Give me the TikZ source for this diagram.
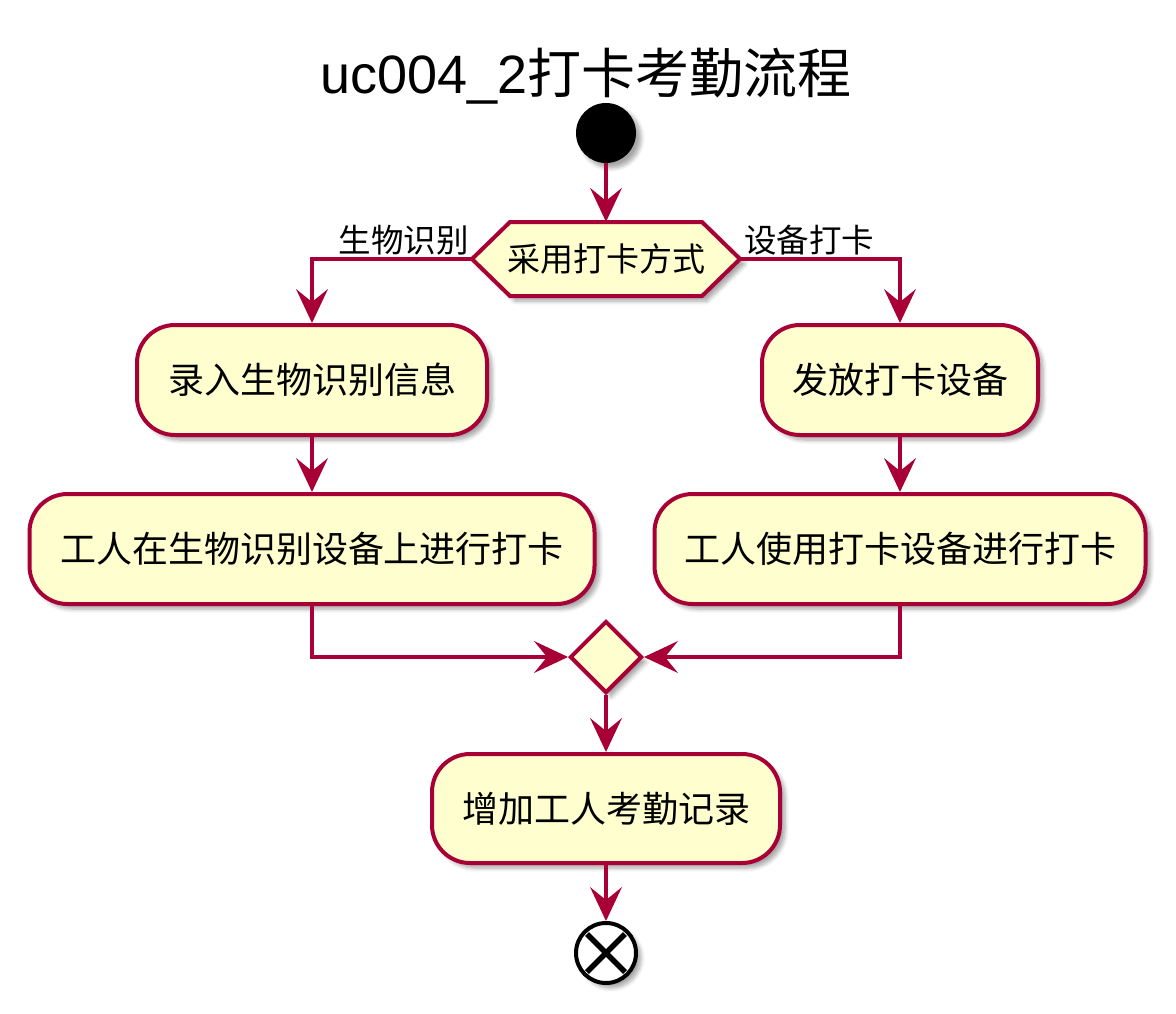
\documentclass[tikz,border=0pt]{standalone}
\usepackage{fontspec}
\setmainfont{Liberation Sans}
\newfontfamily\cjk{Noto Sans CJK SC}
\usetikzlibrary{arrows.meta,shapes.geometric,shadows.blur}
\definecolor{pline}{HTML}{A80036}
\definecolor{pfill}{HTML}{FEFECE}
\tikzset{
  x=1pt,y=-1pt,
  shd/.style={blur shadow={shadow xshift=5pt,shadow yshift=-5pt,shadow blur steps=6,shadow opacity=35,shadow blur radius=4pt}},
  actbox/.style={draw=pline,fill=pfill,line width=4pt,rounded corners=38pt,minimum height=110pt,inner sep=0pt,font=\cjk\fontsize{36}{42}\selectfont,shd},
  arr/.style={draw=pline,line width=4pt,-{Stealth[length=34pt,width=32pt,inset=13pt,line width=0pt]}},
  lbl/.style={font=\cjk\fontsize{32.5}{38}\selectfont,inner sep=0pt},
}
\begin{document}
\begin{tikzpicture}
\useasboundingbox (0,0) rectangle (1176,1013);
% title
\node[inner sep=0pt] (title) at (586,76) {\fontsize{54}{62}\selectfont uc004\_2{\cjk 打卡考勤流程}};
% start
\node[circle,fill=black,minimum size=60pt,inner sep=0pt,shd] (start) at (606,133) {};
% decision hexagon
\path[draw=pline,fill=pfill,line width=4pt,line join=miter,shd]
  (472,259) -- (510,222) -- (702,222) -- (740,259) -- (702,296) -- (510,296) -- cycle;
\node[inner sep=0pt,minimum width=268pt,minimum height=74pt,font=\cjk\fontsize{33}{38}\selectfont] (dec) at (606,259) {\raisebox{-3pt}{采用打卡方式}};
% boxes
\node[actbox,minimum width=350pt] (b1) at (312,380) {录入生物识别信息};
\node[actbox,minimum width=565pt] (b2) at (312,549) {工人在生物识别设备上进行打卡};
\node[actbox,minimum width=276pt] (b3) at (900,380) {发放打卡设备};
\node[actbox,minimum width=491pt] (b4) at (900,549) {工人使用打卡设备进行打卡};
% merge
\node[diamond,draw=pline,fill=pfill,line width=4pt,minimum width=72pt,minimum height=72pt,inner sep=0pt,shd] (m) at (606,657) {};
\node[actbox,minimum width=348pt,minimum height=109pt] (b5) at (606,808.5) {增加工人考勤记录};
% end
\node[circle,draw=black,fill=white,line width=4pt,minimum size=60pt,inner sep=0pt,shd] (stop) at (606,953) {};
\draw[line width=5.5pt] ([shift={(-19,-19)}]stop.center) -- ([shift={(19,19)}]stop.center);
\draw[line width=5.5pt] ([shift={(-19,19)}]stop.center) -- ([shift={(19,-19)}]stop.center);
% connectors
\draw[arr] (start.south) -- (dec.north);
\draw[arr] (dec.west) -| (b1.north);
\draw[arr] (dec.east) -| (b3.north);
\draw[arr] (b1.south) -- (b2.north);
\draw[arr] (b3.south) -- (b4.north);
\draw[arr] (b2.south) |- (m.west);
\draw[arr] (b4.south) |- (m.east);
\draw[arr] (m.south) -- (b5.north);
\draw[arr] (b5.south) -- (stop.north);
% labels
\node[lbl,anchor=south east] (lL) at (469,255) {生物识别};
\node[lbl,anchor=south west] (lR) at (744,255) {设备打卡};
\end{tikzpicture}
\end{document}
